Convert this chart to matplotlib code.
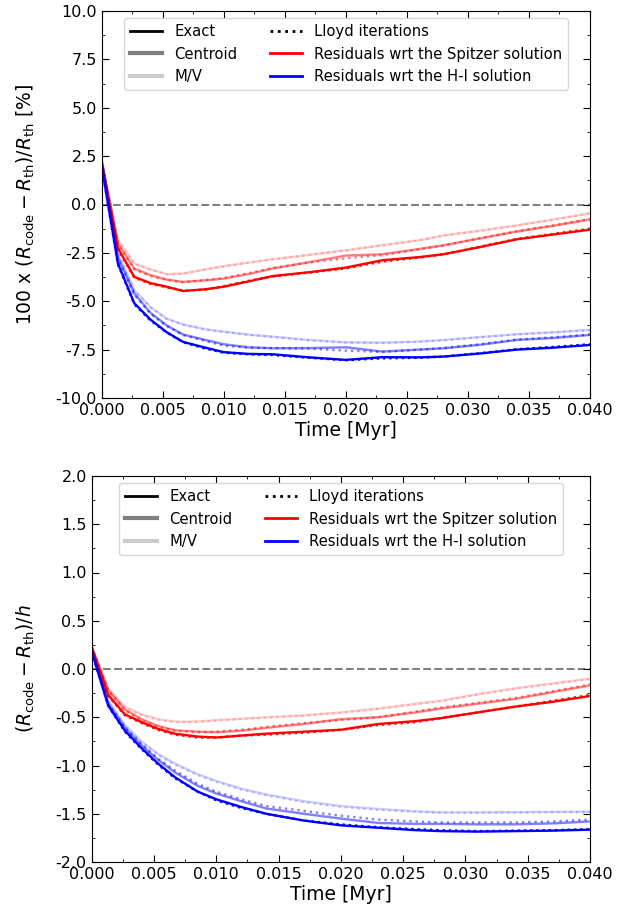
import matplotlib
matplotlib.use("Agg")
import matplotlib.pyplot as plt
from matplotlib.lines import Line2D
from matplotlib.ticker import MultipleLocator, FormatStrFormatter
import numpy as np

# time in Myr
t = np.array([0, 1.33, 2.67, 4, 5.33, 6.67, 8.5, 10, 12, 14, 17, 20, 23, 26, 28, 31, 34, 37, 40]) * 1e-3

# ---------- top panel: 100 x (Rcode - Rth)/Rth [%] ----------
top_sp_exact   = [2.2, -2.25, -3.74, -4.06, -4.25, -4.47, -4.38, -4.25, -3.98, -3.70, -3.50, -3.26, -2.88, -2.72, -2.57, -2.20, -1.80, -1.55, -1.30]
top_sp_exact_l = [2.2, -2.30, -3.78, -4.10, -4.28, -4.45, -4.40, -4.22, -3.95, -3.72, -3.52, -3.30, -2.95, -2.74, -2.58, -2.18, -1.78, -1.52, -1.25]
top_sp_cent    = [2.2, -2.00, -3.31, -3.65, -3.88, -4.00, -3.92, -3.83, -3.60, -3.31, -2.98, -2.64, -2.57, -2.30, -2.11, -1.75, -1.40, -1.10, -0.77]
top_sp_cent_l  = [2.2, -2.05, -3.35, -3.70, -3.90, -4.02, -3.90, -3.80, -3.55, -3.28, -3.00, -2.78, -2.62, -2.32, -2.12, -1.74, -1.38, -1.08, -0.75]
top_sp_mv      = [2.3, -1.80, -3.05, -3.35, -3.60, -3.57, -3.35, -3.19, -3.00, -2.83, -2.60, -2.37, -2.10, -1.85, -1.60, -1.35, -1.08, -0.78, -0.45]
top_sp_mv_l    = [2.3, -1.82, -3.07, -3.37, -3.61, -3.58, -3.36, -3.20, -3.01, -2.84, -2.61, -2.38, -2.11, -1.86, -1.61, -1.36, -1.09, -0.79, -0.46]
top_hi_exact   = [2.0, -3.05, -5.10, -5.95, -6.60, -7.10, -7.40, -7.63, -7.72, -7.74, -7.90, -8.03, -7.89, -7.90, -7.86, -7.70, -7.50, -7.40, -7.26]
top_hi_exact_l = [2.0, -3.10, -5.15, -6.00, -6.62, -7.12, -7.45, -7.66, -7.74, -7.78, -7.92, -8.05, -7.95, -7.92, -7.86, -7.68, -7.48, -7.36, -7.22]
top_hi_cent    = [2.1, -2.75, -4.60, -5.60, -6.25, -6.72, -7.00, -7.22, -7.38, -7.43, -7.42, -7.38, -7.60, -7.50, -7.43, -7.25, -7.00, -6.90, -6.74]
top_hi_cent_l  = [2.1, -2.80, -4.65, -5.65, -6.28, -6.75, -7.05, -7.30, -7.40, -7.42, -7.45, -7.55, -7.62, -7.50, -7.42, -7.22, -6.98, -6.86, -6.72]
top_hi_mv      = [2.2, -2.50, -4.43, -5.30, -5.90, -6.20, -6.45, -6.57, -6.72, -6.83, -7.00, -7.12, -7.14, -7.08, -7.00, -6.85, -6.70, -6.60, -6.48]
top_hi_mv_l    = [2.2, -2.52, -4.45, -5.32, -5.92, -6.22, -6.47, -6.59, -6.74, -6.85, -7.02, -7.14, -7.16, -7.10, -7.02, -6.87, -6.72, -6.62, -6.50]

# ---------- bottom panel: (Rcode - Rth)/h ----------
bot_sp_exact   = [0.22, -0.27, -0.47, -0.55, -0.62, -0.67, -0.70, -0.71, -0.69, -0.67, -0.65, -0.63, -0.57, -0.54, -0.51, -0.45, -0.39, -0.34, -0.28]
bot_sp_exact_l = [0.22, -0.28, -0.48, -0.56, -0.63, -0.68, -0.71, -0.71, -0.69, -0.68, -0.66, -0.63, -0.58, -0.55, -0.51, -0.45, -0.39, -0.33, -0.27]
bot_sp_cent    = [0.23, -0.22, -0.42, -0.52, -0.59, -0.635, -0.65, -0.655, -0.64, -0.61, -0.57, -0.52, -0.50, -0.45, -0.41, -0.36, -0.31, -0.24, -0.17]
bot_sp_cent_l  = [0.23, -0.23, -0.43, -0.53, -0.60, -0.64, -0.655, -0.65, -0.63, -0.60, -0.56, -0.53, -0.50, -0.44, -0.40, -0.35, -0.30, -0.23, -0.16]
bot_sp_mv      = [0.24, -0.20, -0.39, -0.47, -0.52, -0.545, -0.545, -0.53, -0.515, -0.50, -0.48, -0.45, -0.41, -0.36, -0.33, -0.26, -0.20, -0.15, -0.10]
bot_sp_mv_l    = [0.24, -0.21, -0.40, -0.48, -0.53, -0.55, -0.55, -0.535, -0.52, -0.505, -0.485, -0.455, -0.415, -0.365, -0.335, -0.265, -0.205, -0.155, -0.105]
bot_hi_exact   = [0.18, -0.38, -0.64, -0.82, -0.98, -1.12, -1.27, -1.35, -1.43, -1.50, -1.57, -1.62, -1.645, -1.67, -1.68, -1.685, -1.68, -1.675, -1.665]
bot_hi_exact_l = [0.18, -0.38, -0.65, -0.83, -0.99, -1.13, -1.27, -1.36, -1.44, -1.50, -1.57, -1.61, -1.64, -1.66, -1.67, -1.68, -1.675, -1.67, -1.66]
bot_hi_cent    = [0.20, -0.36, -0.61, -0.79, -0.94, -1.07, -1.21, -1.29, -1.37, -1.445, -1.50, -1.55, -1.595, -1.605, -1.605, -1.61, -1.61, -1.60, -1.58]
bot_hi_cent_l  = [0.20, -0.36, -0.61, -0.78, -0.93, -1.05, -1.19, -1.27, -1.35, -1.42, -1.47, -1.52, -1.56, -1.58, -1.59, -1.59, -1.59, -1.58, -1.56]
bot_hi_mv      = [0.22, -0.33, -0.58, -0.75, -0.88, -0.98, -1.09, -1.16, -1.24, -1.30, -1.37, -1.42, -1.45, -1.475, -1.485, -1.485, -1.483, -1.48, -1.478]
bot_hi_mv_l    = [0.22, -0.34, -0.59, -0.76, -0.89, -0.99, -1.10, -1.17, -1.25, -1.31, -1.38, -1.43, -1.46, -1.48, -1.49, -1.49, -1.488, -1.485, -1.483]

legend_labels = ["Exact", "Centroid", "M/V", "Lloyd iterations",
                 "Residuals wrt the Spitzer solution", "Residuals wrt the H-I solution"]

plt.rcParams['font.family'] = ['DejaVu Sans']
plt.rcParams['mathtext.fontset'] = 'dejavusans'

fig = plt.figure(figsize=(6.33, 9.17), dpi=100)
W, H = 633.0, 917.0
ax1 = fig.add_axes([101.7 / W, 1 - 398 / H, (590 - 101.7) / W, (398 - 11) / H])
ax2 = fig.add_axes([91.7 / W, 1 - 862 / H, (590 - 91.7) / W, (862 - 476) / H])

alphas = {"exact": 1.0, "cent": 0.5, "mv": 0.2}
lw = 1.7


def draw(ax, series):
    ax.axhline(0, color='gray', ls='--', lw=1.5, zorder=1)
    for color, groups in series:
        for key, (solid, dotted) in groups.items():
            ax.plot(t, solid, color=color, alpha=alphas[key], lw=lw, ls='-')
            ax.plot(t, dotted, color=color, alpha=alphas[key], lw=lw, ls=':')


draw(ax1, [
    ('red', {"mv": (top_sp_mv, top_sp_mv_l), "cent": (top_sp_cent, top_sp_cent_l), "exact": (top_sp_exact, top_sp_exact_l)}),
    ('blue', {"mv": (top_hi_mv, top_hi_mv_l), "cent": (top_hi_cent, top_hi_cent_l), "exact": (top_hi_exact, top_hi_exact_l)}),
])
draw(ax2, [
    ('red', {"mv": (bot_sp_mv, bot_sp_mv_l), "cent": (bot_sp_cent, bot_sp_cent_l), "exact": (bot_sp_exact, bot_sp_exact_l)}),
    ('blue', {"mv": (bot_hi_mv, bot_hi_mv_l), "cent": (bot_hi_cent, bot_hi_cent_l), "exact": (bot_hi_exact, bot_hi_exact_l)}),
])

handles = [
    Line2D([], [], color='black', lw=2),
    Line2D([], [], color='black', alpha=0.5, lw=3),
    Line2D([], [], color='black', alpha=0.2, lw=3),
    Line2D([], [], color='black', lw=2, ls=':'),
    Line2D([], [], color='red', lw=2),
    Line2D([], [], color='blue', lw=2),
]

for ax, ylim, major, minor, ylabel, lab_x in [
    (ax1, (-10, 10), 2.5, 1.25, r'100 x $(R_{\rm code}-R_{\rm th})/R_{\rm th}$ [%]', -0.1325),
    (ax2, (-2, 2), 0.5, 0.25, r'$(R_{\rm code}-R_{\rm th})/h$', -0.1098),
]:
    ax.set_xlim(0, 0.04)
    ax.set_ylim(*ylim)
    ax.xaxis.set_major_locator(MultipleLocator(0.005))
    ax.xaxis.set_minor_locator(MultipleLocator(0.0025))
    ax.yaxis.set_major_locator(MultipleLocator(major))
    ax.yaxis.set_minor_locator(MultipleLocator(minor))
    ax.xaxis.set_major_formatter(FormatStrFormatter('%.3f'))
    ax.yaxis.set_major_formatter(FormatStrFormatter('%.1f'))
    ax.tick_params(which='both', direction='in', top=True, right=True, labelsize=11.5)
    ax.tick_params(which='major', length=5)
    ax.tick_params(which='minor', length=2.5)
    ax.set_xlabel('Time [Myr]', fontsize=13.5, labelpad=2)
    ax.set_ylabel(ylabel, fontsize=13.5)
    ax.yaxis.set_label_coords(lab_x, 0.5)
    ax.legend(handles, legend_labels, ncol=2, loc='upper center', fontsize=10.6,
              framealpha=0.8, handlelength=2.2, columnspacing=2.2)

fig.savefig('out.png', dpi=100)
